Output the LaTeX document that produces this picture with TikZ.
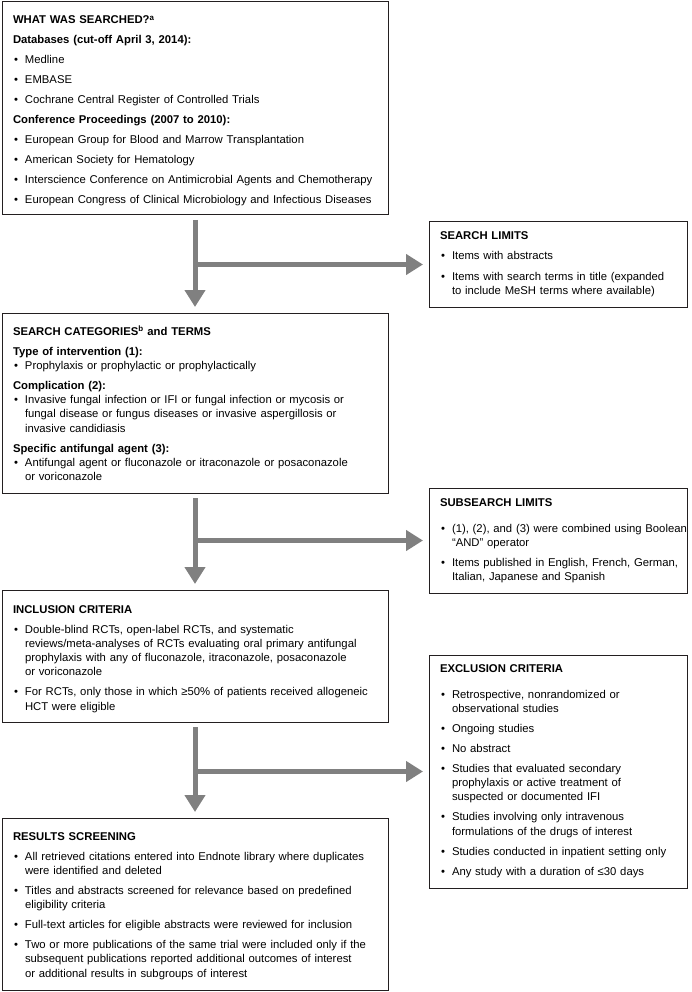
\documentclass[tikz,border=0pt]{standalone}
\usepackage{fontspec}
\setmainfont{Liberation Sans}
\usetikzlibrary{positioning,arrows.meta}

\definecolor{flowgray}{RGB}{128,128,128}
\definecolor{boxline}{RGB}{35,31,32}

\newcommand{\boxtitle}[1]{\textbf{#1}}
\newcommand{\bitem}[1]{\par\hangindent=12pt\hangafter=1\noindent\makebox[12pt][l]{\hspace{1pt}\textbullet}#1\par}
\newcommand{\boxhead}[1]{\par\noindent\textbf{#1}}
\newcommand{\tighthead}[1]{\par\noindent\textbf{#1}\par\vspace{-\parskip}}

\tikzstyle{box} = [draw=boxline, line width=1pt, rectangle, anchor=north west, outer sep=0pt,
  inner sep=0pt, font=\fontsize{11.3}{14.3}\selectfont,
  execute at begin node={\raggedright\leftskip=11pt\hyphenpenalty=10000\setlength{\parskip}{5.7pt}}]
\tikzstyle{widebox} = [box, text width=386pt]
\tikzstyle{sidebox} = [box, text width=258pt]
\tikzstyle{flow} = [draw=flowgray, line width=5pt, -{Triangle[width=20pt,length=17pt]}, shorten <=5pt, shorten >=6pt]
\tikzstyle{branch} = [draw=flowgray, line width=5pt, -{Triangle[width=20pt,length=17pt]}, shorten >=6pt]

\begin{document}
\begin{tikzpicture}[x=1pt, y=1pt]
  \useasboundingbox (0,0) rectangle (691,-992);

  \node[widebox, text height=22pt, text depth=191pt](searched) at (2,-2) {%
    \boxtitle{WHAT WAS SEARCHED?\textsuperscript{a}}
    \boxhead{Databases (cut-off April 3, 2014):}
    \bitem{Medline}
    \bitem{EMBASE}
    \bitem{Cochrane Central Register of Controlled Trials}
    \boxhead{Conference Proceedings (2007 to 2010):}
    \bitem{European Group for Blood and Marrow Transplantation}
    \bitem{American Society for Hematology}
    \bitem{Interscience Conference on Antimicrobial Agents and Chemotherapy}
    \bitem{European Congress of Clinical Microbiology and Infectious Diseases}};
  \node[widebox, text height=22pt, text depth=158pt, below=98pt of searched](categories) {%
    \boxtitle{SEARCH CATEGORIES\textsuperscript{b} and TERMS}
    \tighthead{Type of intervention (1):}
    \bitem{Prophylaxis or prophylactic or prophylactically}
    \tighthead{Complication (2):}
    \bitem{Invasive fungal infection or IFI or fungal infection or mycosis or\newline
      fungal disease or fungus diseases or invasive aspergillosis or\newline
      invasive candidiasis}
    \tighthead{Specific antifungal agent (3):}
    \bitem{Antifungal agent or fluconazole or itraconazole or posaconazole\newline
      or voriconazole}};
  \node[widebox, text height=23pt, text depth=109pt, below=97pt of categories](inclusion) {%
    \boxtitle{INCLUSION CRITERIA}
    \bitem{Double-blind RCTs, open-label RCTs, and systematic\newline
      reviews/meta-analyses of RCTs evaluating oral primary antifungal\newline
      prophylaxis with any of fluconazole, itraconazole, posaconazole\newline
      or voriconazole}
    \bitem{For RCTs, only those in which ≥50\% of patients received allogeneic\newline
      HCT were eligible}};
  \node[widebox, text height=22pt, text depth=150pt, below=96pt of inclusion](screening) {%
    \boxtitle{RESULTS SCREENING}
    \bitem{All retrieved citations entered into Endnote library where duplicates\newline
      were identified and deleted}
    \bitem{Titles and abstracts screened for relevance based on predefined\newline
      eligibility criteria}
    \bitem{Full-text articles for eligible abstracts were reviewed for inclusion}
    \bitem{Two or more publications of the same trial were included only if the\newline
      subsequent publications reported additional outcomes of interest\newline
      or additional results in subgroups of interest}};

  \node[sidebox, text height=18pt, text depth=67pt, below right=7pt and 41pt of searched.south east](limits) {%
    \boxtitle{SEARCH LIMITS}
    \bitem{Items with abstracts}
    \bitem{Items with search terms in title (expanded\newline
      to include MeSH terms where available)}};
  \node[sidebox, text height=18pt, text depth=87pt, below=181pt of limits](sublimits) {%
    \boxtitle{SUBSEARCH LIMITS}\par\vspace{6pt}
    \bitem{(1), (2), and (3) were combined using Boolean\newline
      “AND” operator}
    \bitem{Items published in English, French, German,\newline
      Italian, Japanese and Spanish}};
  \node[sidebox, text height=17pt, text depth=216pt, below=62pt of sublimits](exclusion) {%
    \boxtitle{EXCLUSION CRITERIA}\par\vspace{6pt}
    \bitem{Retrospective, nonrandomized or\newline
      observational studies}
    \bitem{Ongoing studies}
    \bitem{No abstract}
    \bitem{Studies that evaluated secondary\newline
      prophylaxis or active treatment of\newline
      suspected or documented IFI}
    \bitem{Studies involving only intravenous\newline
      formulations of the drugs of interest}
    \bitem{Studies conducted in inpatient setting only}
    \bitem{Any study with a duration of ≤30 days}};

  \draw[flow] (searched.south) to (categories.north);
  \draw[flow] (categories.south) to (inclusion.north);
  \draw[flow] (inclusion.south) to (screening.north);
  \draw[branch] (searched.south |- limits.west) to (limits.west);
  \draw[branch] (categories.south |- sublimits.west) to (sublimits.west);
  \draw[branch] (inclusion.south |- exclusion.west) to (exclusion.west);

\end{tikzpicture}
\end{document}
